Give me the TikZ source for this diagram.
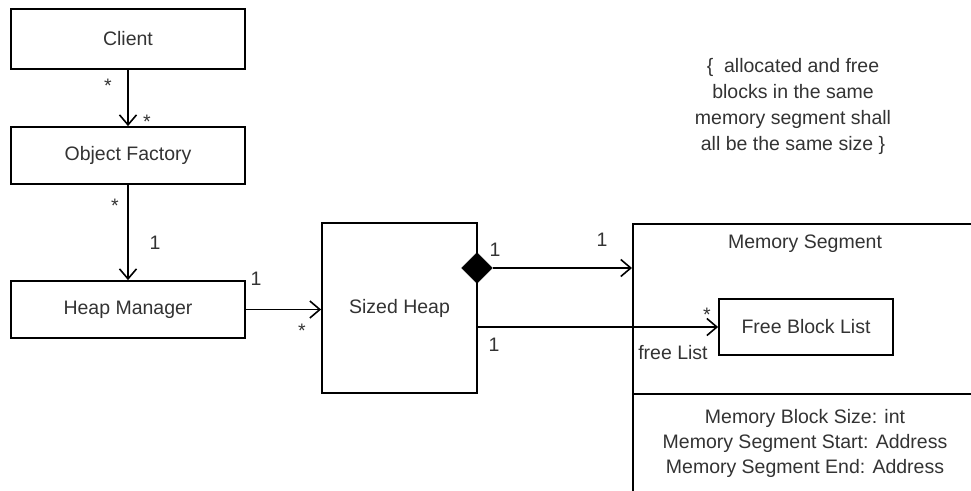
\documentclass[tikz,border=0pt]{standalone}
\usepackage{fontspec}
\setmainfont{Liberation Sans}
\usetikzlibrary{arrows.meta,shapes.geometric}
\begin{document}
\begin{tikzpicture}[x=1pt,y=-1pt,
  font=\fontsize{19.5}{25}\selectfont,
  every node/.style={text=black!80},
  box/.style={draw=black,line width=1.8pt,rectangle,inner sep=0pt},
  conn/.style={draw=black,line width=1.6pt},
  arr/.style={conn,-{Straight Barb[length=10pt,width=17pt,line width=1.6pt]}},
  lbl/.style={inner sep=0pt},
]
\useasboundingbox (0,0) rectangle (971,490);
\clip (0,0) rectangle (971,490);
\fill[white] (0,0) rectangle (971,490);

% classes
\node[box,minimum width=234pt,minimum height=60pt] (client) at (128,39) {Client};
\node[box,minimum width=234pt,minimum height=57pt] (of) at (128,155.5) {Object Factory};
\node[box,minimum width=234pt,minimum height=57pt] (hm) at (128,309.5) {Heap Manager};
\node[box,minimum width=155pt,minimum height=170pt] (sh) at (399.5,308) {Sized Heap};
\node[box,minimum width=380pt,minimum height=300pt,anchor=north west] (ms) at (632,223) {};
\draw[line width=1.8pt] (632,394) -- (990,394);
\node[lbl] (mstitle) at (805,244) {Memory Segment};
\node[box,minimum width=174pt,minimum height=56pt] (fbl) at (806,327) {Free Block List};
\node[lbl,align=center] (attrs) at (805,443) {Memory Block Size: int\\Memory Segment Start: Address\\Memory Segment End: Address};

% note
\node[lbl,align=center,font=\fontsize{19.5}{26}\selectfont] (note) at (793,106)
  {\{\ \ allocated and free\\blocks in the same\\memory segment shall\\all be the same size \}};

% connectors
\draw[arr] (client.south) -- (of.north);
\draw[arr] (of.south) -- (hm.north);
\draw[arr] (hm.east) -- (hm.east -| sh.west);
\node[diamond,fill=black,draw=black,inner sep=0pt,minimum width=31pt,minimum height=31pt] (dia) at (477,268) {};
\draw[arr] (dia.east) -- (dia.east -| ms.west);
\draw[arr] (sh.east |- fbl.west) -- (fbl.west);

% multiplicities
\node[lbl] (s1) at (108,86) {*};
\node[lbl] (s2) at (147,122) {*};
\node[lbl] (s3) at (115,206) {*};
\node[lbl] (n1) at (155,243) {1};
\node[lbl] (n2) at (256,279) {1};
\node[lbl] (s4) at (302,331) {*};
\node[lbl] (n3) at (495,250) {1};
\node[lbl] (n4) at (602,240) {1};
\node[lbl] (n5) at (494,345) {1};
\node[lbl] (s5) at (707,315) {*};
\node[lbl] (fl) at (673,353) {free List};
\end{tikzpicture}
\end{document}
